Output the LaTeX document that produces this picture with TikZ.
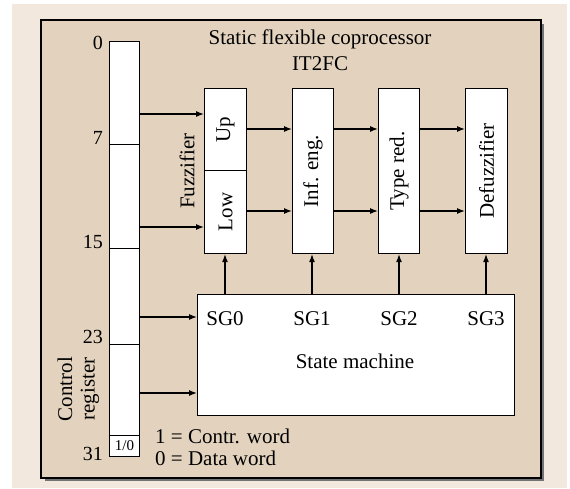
\documentclass[tikz,border=0pt]{standalone}
\usepackage{fontspec}
\setmainfont{Liberation Serif}
\usetikzlibrary{arrows.meta}
\definecolor{bgout}{HTML}{F2E8DE}
\definecolor{bgin}{HTML}{E3D3BE}
\begin{document}
\begin{tikzpicture}[x=1pt,y=-1pt,
  blk/.style={draw=black,line width=1.1pt,fill=white},
  arr/.style={line width=1.3pt,-{Latex[length=8pt,width=6pt]}},
  txt/.style={font=\fontsize{21}{24}\selectfont,inner sep=0pt},
  btxt/.style={txt,anchor=base},
  num/.style={font=\fontsize{20}{24}\selectfont,inner sep=0pt,anchor=base east}]
\useasboundingbox (0,0) rectangle (570,489);
\fill[white] (0,0) rectangle (570,489);
\fill[bgout] (12,4) rectangle (567,488);
% shadow
\fill[black!55] (45,24) rectangle (544,481);
\draw[line width=1.1pt,fill=bgin] (41,20) rectangle (541,478);
% title
\node[btxt] (t1) at (320,45) {Static flexible coprocessor};
\node[btxt] (t2) at (320,71) {IT2FC};
% register
\node[blk,minimum width=30pt,minimum height=103pt,inner sep=0pt,anchor=north west] (r0) at (109,41) {};
\node[blk,minimum width=30pt,minimum height=104pt,inner sep=0pt,anchor=north west] (r1) at (109,144) {};
\node[blk,minimum width=30pt,minimum height=96pt,inner sep=0pt,anchor=north west] (r2) at (109,248) {};
\node[blk,minimum width=30pt,minimum height=91pt,inner sep=0pt,anchor=north west] (r3) at (109,344) {};
\node[blk,minimum width=30pt,minimum height=21pt,inner sep=0pt,anchor=north west,font=\fontsize{15}{16}\selectfont] (rb) at (109,435) {1/0};
\node[num] (n0) at (103,50) {0};
\node[num] (n7) at (103,145) {7};
\node[num] (n15) at (103,248) {15};
\node[num] (n23) at (103,343) {23};
\node[num] (n31) at (103,460) {31};
\node[txt,rotate=90] (cr1) at (65,389) {Control};
\node[txt,rotate=90] (cr2) at (90,389) {register};
\node[btxt,anchor=base west] (l1) at (155,443) {1 = Contr. word};
\node[btxt,anchor=base west] (l2) at (155,465) {0 = Data word};
% fuzzifier
\node[blk,minimum width=42pt,minimum height=82pt,inner sep=0pt,anchor=north west] (up) at (204,88) {};
\node[blk,minimum width=42pt,minimum height=83pt,inner sep=0pt,anchor=north west] (low) at (204,170) {};
\node[txt,rotate=90] (upt) at (up.center) {Up};
\node[txt,rotate=90] (lowt) at (low.center) {Low};
\node[txt,rotate=90] (fz) at (187,171) {Fuzzifier};
\node[blk,minimum width=41pt,minimum height=165pt,inner sep=0pt,anchor=north west] (inf) at (292,88) {};
\node[txt,rotate=90] at (inf.center) {Inf. eng.};
\node[blk,minimum width=41pt,minimum height=165pt,inner sep=0pt,anchor=north west] (typ) at (378,88) {};
\node[txt,rotate=90] at (typ.center) {Type red.};
\node[blk,minimum width=42pt,minimum height=165pt,inner sep=0pt,anchor=north west] (def) at (465,88) {};
\node[txt,rotate=90] at (def.center) {Defuzzifier};
% state machine
\node[blk,minimum width=317pt,minimum height=121pt,inner sep=0pt,anchor=north west] (sm) at (197,294) {};
\node[btxt] (sg0) at (225,325) {SG0};
\node[btxt] (sg1) at (312,325) {SG1};
\node[btxt] (sg2) at (399,325) {SG2};
\node[btxt] (sg3) at (486,325) {SG3};
\node[btxt] (smt) at (355,368) {State machine};
% arrows register -> fuzzifier / sm
\draw[arr] (r0.east |- 0,114) -- (up.west |- 0,114);
\draw[arr] (r1.east |- 0,227) -- (low.west |- 0,227);
\draw[arr] (r2.east |- 0,317) -- (sm.west |- 0,317);
\draw[arr] (r3.east |- 0,393) -- (sm.west |- 0,393);
% pipeline arrows
\draw[arr] (up.east |- 0,129) -- (inf.west |- 0,129);
\draw[arr] (inf.east |- 0,129) -- (typ.west |- 0,129);
\draw[arr] (typ.east |- 0,129) -- (def.west |- 0,129);
\draw[arr] (low.east |- 0,211) -- (inf.west |- 0,211);
\draw[arr] (inf.east |- 0,211) -- (typ.west |- 0,211);
\draw[arr] (typ.east |- 0,211) -- (def.west |- 0,211);
% SG arrows
\draw[arr] (sm.north -| 225,0) -- (low.south -| 225,0);
\draw[arr] (sm.north -| 312,0) -- (inf.south -| 312,0);
\draw[arr] (sm.north -| 399,0) -- (typ.south -| 399,0);
\draw[arr] (sm.north -| 486,0) -- (def.south -| 486,0);
\end{tikzpicture}
\end{document}
